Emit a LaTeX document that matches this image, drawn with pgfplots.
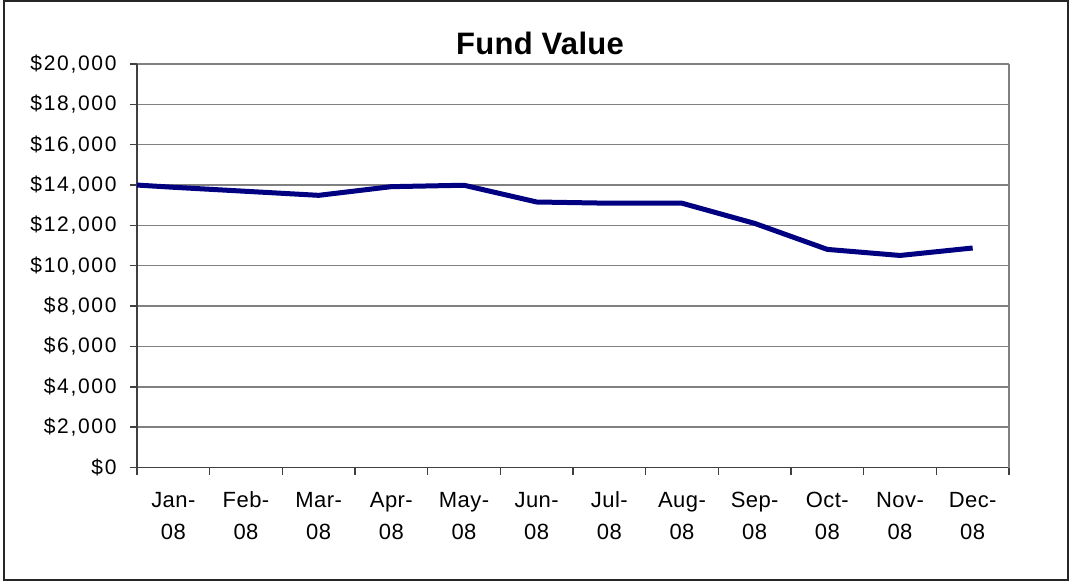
\documentclass[border=0pt]{standalone}
\usepackage{pgfplots}
\pgfplotsset{compat=1.18}
\usepackage{fontspec}
\setmainfont{Liberation Sans}
\newfontfamily\ytickfont[LetterSpace=8]{Liberation Sans}
\newfontfamily\xtickfont[LetterSpace=2]{Liberation Sans}
\newfontfamily\titlefont[LetterSpace=1]{Liberation Sans}
\definecolor{navyline}{RGB}{0,0,128}
\definecolor{gridgray}{RGB}{128,128,128}
\definecolor{axisdark}{RGB}{64,64,64}
\newcommand{\ml}[1]{\rule{0pt}{18pt}#1-\\08}
\begin{document}
\begin{tikzpicture}[x=1pt,y=1pt]
\useasboundingbox (0,0) rectangle (1072,582);
\draw[line width=2pt, color=black!85] (3.5,2.5) rectangle (1068,580.5);
\node[font={\titlefont\fontsize{31}{36}\selectfont\bfseries}, anchor=base] at (540,527) {Fund Value};
\begin{axis}[
  at={(137pt,114.5pt)}, anchor=south west,
  scale only axis, width=872pt, height=403.5pt,
  xmin=0, xmax=12, ymin=0, ymax=20000,
  axis x line*=bottom, axis y line*=left,
  axis line style={color=axisdark, line width=1.6pt},
  ytick={0,2000,...,20000},
  yticklabels={{\$0},{\$2,000},{\$4,000},{\$6,000},{\$8,000},{\$10,000},{\$12,000},{\$14,000},{\$16,000},{\$18,000},{\$20,000}},
  scaled y ticks=false,
  ymajorgrids,
  grid style={color=gridgray, line width=1.4pt},
  tick align=outside,
  major tick length=7pt, minor tick length=7pt,
  tick style={color=axisdark, line width=1.4pt},
  xtick={0.5,1.5,...,11.5},
  xticklabels={{\ml{Jan}},{\ml{Feb}},{\ml{Mar}},{\ml{Apr}},{\ml{May}},{\ml{Jun}},{\ml{Jul}},{\ml{Aug}},{\ml{Sep}},{\ml{Oct}},{\ml{Nov}},{\ml{Dec}}},
  major x tick style={draw=none},
  minor xtick={0,1,...,12},
  xticklabel style={align=center, yshift=-11pt, font={\xtickfont\fontsize{22}{32}\selectfont}},
  yticklabel style={xshift=-10pt, font={\ytickfont\fontsize{21}{24}\selectfont}},
  after end axis/.code={\draw[color=gridgray, line width=1.4pt] (axis cs:12,0) -- (axis cs:12,20000);},
]
\addplot[color=navyline, line width=5pt, line join=round] coordinates {
  (0,14000) (0.5,13890) (1.5,13690) (2.5,13490) (3.5,13920) (4.5,13990)
  (5.5,13160) (6.5,13100) (7.5,13100) (8.5,12100) (9.5,10810) (10.5,10510) (11.5,10880)
};
\end{axis}
\end{tikzpicture}
\end{document}
